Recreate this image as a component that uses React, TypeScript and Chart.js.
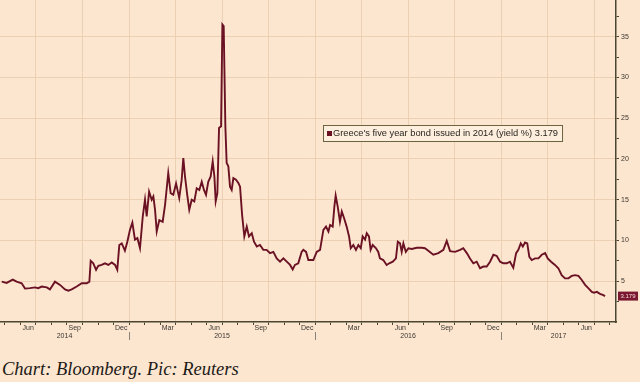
import React, { useEffect, useRef } from "react";
import { Chart, registerables } from "chart.js";

Chart.register(...registerables);

// ---- data (time as decimal year, yield in %) ----
const dates = [
  2014.316, 2014.342, 2014.375, 2014.396, 2014.423, 2014.441, 2014.468, 2014.495, 2014.512, 2014.531,
  2014.558, 2014.575, 2014.602, 2014.629, 2014.656, 2014.674, 2014.692, 2014.719, 2014.746, 2014.773,
  2014.787, 2014.794, 2014.808, 2014.823, 2014.835, 2014.853, 2014.871, 2014.889, 2014.907, 2014.925,
  2014.937, 2014.948, 2014.961, 2014.978, 2014.991, 2015.005, 2015.018, 2015.032, 2015.045, 2015.059,
  2015.074, 2015.086, 2015.095, 2015.108, 2015.122, 2015.131, 2015.140, 2015.149, 2015.163, 2015.181,
  2015.194, 2015.211, 2015.224, 2015.238, 2015.253, 2015.270, 2015.283, 2015.292, 2015.301, 2015.313,
  2015.324, 2015.337, 2015.351, 2015.364, 2015.378, 2015.391, 2015.403, 2015.414, 2015.426, 2015.439,
  2015.450, 2015.459, 2015.466, 2015.475, 2015.484, 2015.495, 2015.502, 2015.509, 2015.518, 2015.525,
  2015.534, 2015.543, 2015.552, 2015.561, 2015.575, 2015.588, 2015.597, 2015.608, 2015.620, 2015.633,
  2015.645, 2015.660, 2015.672, 2015.687, 2015.704, 2015.722, 2015.740, 2015.758, 2015.776, 2015.794,
  2015.812, 2015.830, 2015.848, 2015.866, 2015.880, 2015.892, 2015.910, 2015.928, 2015.937, 2015.952,
  2015.964, 2015.991, 2016.009, 2016.027, 2016.045, 2016.059, 2016.072, 2016.081, 2016.095, 2016.104,
  2016.111, 2016.122, 2016.134, 2016.144, 2016.156, 2016.170, 2016.183, 2016.192, 2016.206, 2016.220,
  2016.233, 2016.246, 2016.256, 2016.269, 2016.278, 2016.290, 2016.299, 2016.310, 2016.328, 2016.340,
  2016.349, 2016.367, 2016.385, 2016.399, 2016.418, 2016.435, 2016.445, 2016.457, 2016.466, 2016.475,
  2016.488, 2016.502, 2016.520, 2016.547, 2016.574, 2016.591, 2016.609, 2016.636, 2016.663, 2016.690,
  2016.708, 2016.726, 2016.753, 2016.780, 2016.797, 2016.816, 2016.833, 2016.851, 2016.869, 2016.887,
  2016.905, 2016.923, 2016.941, 2016.959, 2016.977, 2016.995, 2017.012, 2017.031, 2017.048, 2017.066,
  2017.081, 2017.093, 2017.106, 2017.117, 2017.129, 2017.141, 2017.152, 2017.165, 2017.183, 2017.201,
  2017.219, 2017.237, 2017.251, 2017.269, 2017.290, 2017.308, 2017.326, 2017.344, 2017.362, 2017.380,
  2017.398, 2017.416, 2017.434, 2017.452, 2017.469, 2017.488, 2017.500, 2017.515, 2017.532, 2017.550,
  2017.559,
];

const yields = [
  4.95, 4.8, 5.2, 4.95, 4.75, 4.1, 4.15, 4.25, 4.15, 4.35,
  4.25, 4.0, 4.95, 4.55, 4.0, 3.85, 4.0, 4.35, 4.75, 4.75,
  4.95, 7.5, 7.2, 6.4, 6.9, 7.0, 7.2, 7.0, 7.3, 7.0,
  6.4, 9.45, 9.65, 8.75, 9.85, 11.3, 12.2, 10.1, 10.3, 9.05,
  12.95, 15.0, 12.95, 16.0, 15.0, 15.4, 13.75, 11.1, 12.5, 12.3,
  14.4, 18.25, 15.8, 15.6, 17.0, 15.2, 17.4, 20.1, 17.85, 15.6,
  13.75, 15.0, 14.8, 16.4, 16.2, 17.2, 16.2, 15.6, 17.2, 17.85,
  19.7, 17.85, 14.8, 15.8, 23.8, 24.0, 36.5, 36.3, 24.0, 19.5,
  19.1, 16.6, 16.2, 17.65, 17.45, 17.05, 16.6, 13.15, 10.5, 11.7,
  10.5, 10.9, 9.85, 9.25, 9.45, 8.85, 8.85, 8.45, 8.6, 7.8,
  7.4, 7.8, 7.4, 7.0, 6.45, 7.0, 7.2, 8.6, 8.85, 8.6,
  7.6, 7.6, 8.6, 8.85, 11.3, 11.7, 11.1, 11.9, 11.7, 14.15,
  15.5, 14.15, 12.3, 13.55, 12.75, 11.7, 10.5, 9.05, 9.45, 8.85,
  9.45, 9.05, 10.5, 10.1, 10.9, 10.5, 8.85, 9.45, 9.05, 8.6,
  7.8, 7.6, 7.0, 7.2, 7.4, 7.8, 9.85, 9.65, 8.6, 9.65,
  8.6, 9.05, 8.95, 9.1, 9.1, 9.05, 8.75, 8.25, 8.45, 8.85,
  9.95, 8.7, 8.6, 8.85, 9.05, 8.45, 7.8, 7.2, 7.4, 6.6,
  6.8, 6.8, 7.4, 8.25, 8.1, 7.4, 7.2, 7.2, 7.4, 6.65,
  8.45, 8.85, 9.65, 9.25, 9.75, 9.65, 8.0, 7.6, 7.8, 7.8,
  8.25, 8.45, 7.8, 7.4, 7.0, 6.6, 5.75, 5.35, 5.35, 5.65,
  5.75, 5.65, 5.15, 4.55, 4.15, 3.7, 3.6, 3.7, 3.45, 3.3,
  3.179,
];

const monthNames = ["Jan", "Feb", "Mar", "Apr", "May", "Jun", "Jul", "Aug", "Sep", "Oct", "Nov", "Dec"];
const labeledMonths = ["Mar", "Jun", "Sep", "Dec"];
const years = [2014, 2015, 2016, 2017];
const yTickValues = [0, 2.5, 5, 7.5, 10, 12.5, 15, 17.5, 20, 22.5, 25, 27.5, 30, 32.5, 35, 37.5];
const seriesLabel = "Greece's five year bond issued in 2014 (yield %)";
const lastValueText = "3.179";
const caption = "Chart: Bloomberg. Pic: Reuters";

const X_MIN = 2014.3065;
const X_MAX = 2017.618;
const Y_MIN = 0;
const Y_MAX = 39.5;

// ---- styles ----
const BG = "#fde6cf";
const GRID = "#ebd0b4";
const AXIS = "#4a4632";
const LINE = "#6a1224";
const TEXT = "#3a3630";
const SMALL_FONT = "Liberation Sans";

const monthStarts: number[] = [];
years.forEach((y) => {
  for (let m = 0; m < 12; m++) {
    const v = y + m / 12;
    if (v >= X_MIN && v <= X_MAX) monthStarts.push(v);
  }
});

function monthOf(v: number) {
  const y = Math.floor(v + 1e-6);
  return Math.round((v - y) * 12) % 12;
}

const overlayPlugin = {
  id: "bbgOverlay",
  afterDraw(chart: any) {
    const { ctx, chartArea } = chart;
    const xs = chart.scales.x;
    const ys = chart.scales.y;
    ctx.save();

    // month labels, centred in their month
    ctx.font = `7px "${SMALL_FONT}"`;
    ctx.fillStyle = TEXT;
    ctx.textAlign = "center";
    ctx.textBaseline = "middle";
    monthStarts.forEach((v) => {
      const name = monthNames[monthOf(v)];
      if (!labeledMonths.includes(name)) return;
      const c = v + 1 / 24;
      if (c > X_MAX) return;
      ctx.fillText(name, xs.getPixelForValue(c), chartArea.bottom + 6.5);
    });

    // year labels + separators
    years.forEach((y) => {
      const a = Math.max(y, X_MIN);
      const b = Math.min(y + 1, X_MAX);
      if (b <= a) return;
      const px = (xs.getPixelForValue(a) + xs.getPixelForValue(b)) / 2;
      ctx.fillText(String(y), px, chartArea.bottom + 14.5);
      if (y > X_MIN && y < X_MAX) {
        const sx = Math.round(xs.getPixelForValue(y)) + 0.5;
        ctx.strokeStyle = "#8a8478";
        ctx.lineWidth = 1;
        ctx.beginPath();
        ctx.moveTo(sx, chartArea.bottom + 10);
        ctx.lineTo(sx, chartArea.bottom + 18);
        ctx.stroke();
      }
    });

    // last value tag on the right axis
    const last = yields[yields.length - 1];
    const ty = ys.getPixelForValue(last);
    ctx.fillStyle = "#7a1832";
    ctx.fillRect(chartArea.right + 2, ty - 4.5, 20, 9);
    ctx.fillStyle = "#f4dcd8";
    ctx.font = `6px "${SMALL_FONT}"`;
    ctx.textAlign = "center";
    ctx.fillText(lastValueText, chartArea.right + 12, ty + 0.5);

    // legend box
    const lx = 323;
    const ly = 125;
    ctx.font = `9.3px "${SMALL_FONT}"`;
    const label = `${seriesLabel} ${lastValueText}`;
    const tw = ctx.measureText(label).width;
    const bw = tw + 14;
    ctx.fillStyle = "#fdeedd";
    ctx.fillRect(lx, ly, bw, 16);
    ctx.strokeStyle = "#6b6440";
    ctx.lineWidth = 1;
    ctx.strokeRect(lx + 0.5, ly + 0.5, bw, 16);
    ctx.fillStyle = LINE;
    ctx.fillRect(lx + 4, ly + 6, 5, 5);
    ctx.fillStyle = "#2a2620";
    ctx.textAlign = "left";
    ctx.textBaseline = "middle";
    ctx.fillText(label, lx + 10, ly + 8.5);

    ctx.restore();
  },
};

export default function App() {
  const ref = useRef<HTMLCanvasElement | null>(null);

  useEffect(() => {
    if (!ref.current) return;
    const chart = new Chart(ref.current, {
      type: "line",
      data: {
        datasets: [
          {
            label: seriesLabel,
            data: dates.map((d, i) => ({ x: d, y: yields[i] })),
            borderColor: LINE,
            borderWidth: 1.9,
            pointRadius: 0,
            tension: 0,
            fill: false,
          },
        ],
      },
      options: {
        animation: false,
        responsive: false,
        maintainAspectRatio: false,
        layout: { padding: 0 },
        plugins: { legend: { display: false }, tooltip: { enabled: false }, title: { display: false } },
        scales: {
          x: {
            type: "linear",
            min: X_MIN,
            max: X_MAX,
            afterBuildTicks: (s: any) => {
              s.ticks = monthStarts.map((v) => ({ value: v }));
            },
            afterFit: (s: any) => {
              s.height = 23;
              s.paddingLeft = 0;
              s.paddingRight = 0;
            },
            ticks: { display: false, autoSkip: false },
            grid: {
              color: (c: any) => (c.tick && monthOf(c.tick.value) % 3 === 0 ? GRID : "rgba(0,0,0,0)"),
              tickColor: AXIS,
              tickLength: 3,
              lineWidth: 1,
            },
            border: { color: AXIS, width: 1.5 },
          },
          y: {
            type: "linear",
            position: "right",
            min: Y_MIN,
            max: Y_MAX,
            afterBuildTicks: (s: any) => {
              s.ticks = yTickValues.map((v) => ({ value: v }));
            },
            afterFit: (s: any) => {
              s.width = 24;
              s.paddingTop = 0;
              s.paddingBottom = 0;
            },
            ticks: {
              autoSkip: false,
              padding: 2,
              color: TEXT,
              font: { family: SMALL_FONT, size: 7 },
              callback: (v: any) => (Number(v) > 0 && Number(v) % 5 === 0 ? String(v) : ""),
            },
            grid: {
              color: (c: any) => (c.tick && c.tick.value > 0 && c.tick.value % 5 === 0 ? GRID : "rgba(0,0,0,0)"),
              tickColor: (c: any) => (c.tick && c.tick.value > 0 ? AXIS : "rgba(0,0,0,0)"),
              tickLength: 3,
              lineWidth: 1,
            },
            border: { color: AXIS, width: 1.5 },
          },
        },
      },
      plugins: [overlayPlugin],
    } as any);
    return () => chart.destroy();
  }, []);

  return (
    <div
      style={{
        position: "absolute",
        left: 0,
        top: 0,
        width: 640,
        height: 382,
        background: BG,
        overflow: "hidden",
      }}
    >
      <canvas ref={ref} width={640} height={345} style={{ display: "block", width: 640, height: 345 }} />
      <div
        style={{
          position: "absolute",
          left: 2,
          top: 358,
          fontFamily: '"Liberation Serif", serif',
          fontStyle: "italic",
          fontSize: 18.5,
          lineHeight: "22px",
          color: "#1c1a18",
          whiteSpace: "nowrap",
        }}
      >
        {caption}
      </div>
    </div>
  );
}
